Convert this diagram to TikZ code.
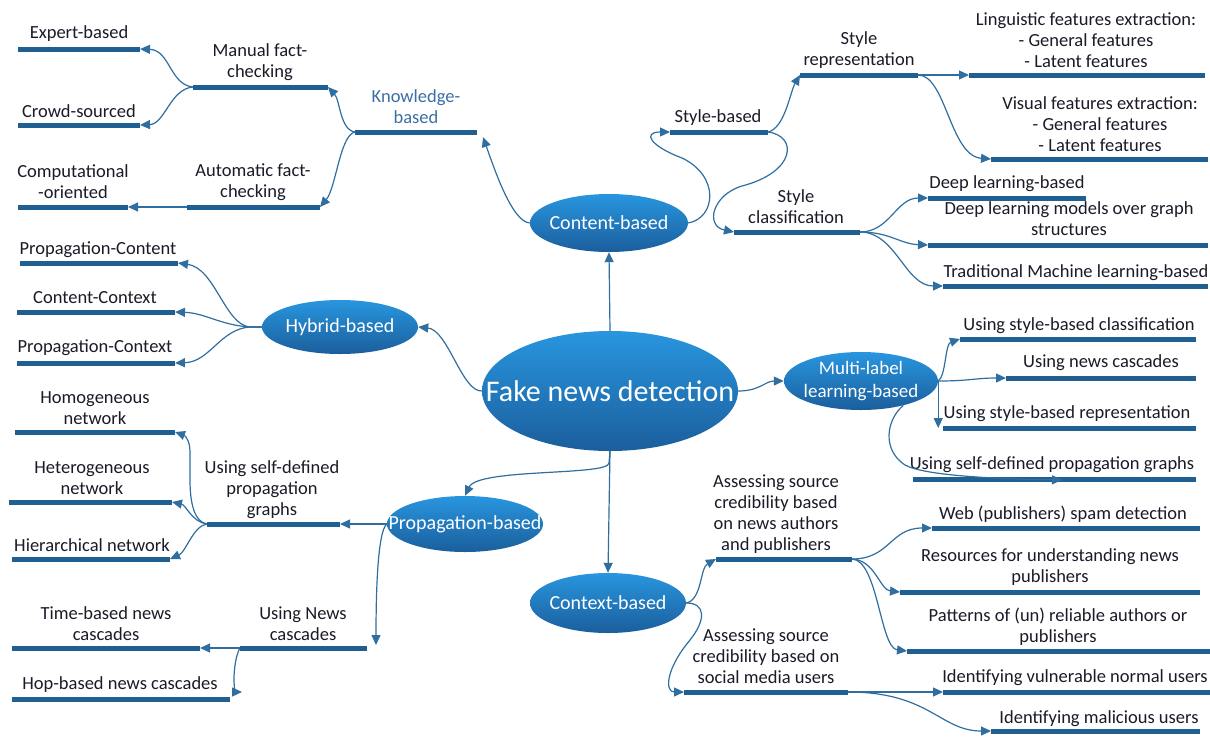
\documentclass[tikz,border=0pt]{standalone}
\usepackage{fontspec}
\setmainfont{Carlito}
\usetikzlibrary{arrows.meta,shapes.geometric}
\definecolor{barc}{HTML}{1F5F91}
\definecolor{linec}{HTML}{2F6E9F}
\definecolor{ellTop}{HTML}{2896DF}
\definecolor{ellBot}{HTML}{1B5E9C}
\definecolor{txt}{HTML}{1A1A28}
\definecolor{knc}{HTML}{3A6EA5}
\tikzset{
  barline/.style={line width=5pt, draw=barc},
  conn/.style={line width=1.2pt, draw=linec, -{Triangle[length=10pt,width=9pt]}},
  lbl/.style={font=\fontsize{18.5}{21}\selectfont, text=txt, align=center, inner sep=0pt},
  oval/.style={ellipse, top color=ellTop, bottom color=ellBot, draw=none, inner sep=0pt},
  ovaltext/.style={text=white, inner sep=0pt, align=center, font=\fontsize{20}{23}\selectfont},
}
\begin{document}
\begin{tikzpicture}[x=1pt,y=-1pt]
\useasboundingbox (0,0) rectangle (1210,737);
% ---------------- ellipses
\node[oval, minimum width=256pt, minimum height=120pt] (main) at (610,391) {};
\node[ovaltext, font=\fontsize{30}{32}\selectfont] (mainT) at (main.center) {Fake news detection};
\node[oval, minimum width=158pt, minimum height=58pt] (content) at (609,223) {};
\node[ovaltext] (contentT) at (content.center) {Content-based};
\node[oval, minimum width=156pt, minimum height=54pt] (hybrid) at (340,327) {};
\node[ovaltext] (hybridT) at (hybrid.center) {Hybrid-based};
\node[oval, minimum width=154pt, minimum height=58pt] (multi) at (861,381) {};
\node[ovaltext, font=\fontsize{19}{23}\selectfont] (multiT) at (multi.center) {Multi-label\\learning-based};
\node[oval, minimum width=156pt, minimum height=56pt] (prop) at (465,524) {};
\node[ovaltext] (propT) at (prop.center) {Propagation-based};
\node[oval, minimum width=156pt, minimum height=60pt] (context) at (608,603) {};
\node[ovaltext] (contextT) at (context.center) {Context-based};
% ---------------- bars (left/right ends)
\foreach \n/\a/\b/\y in {kn/355/477/132, man/193/328/87, aut/187/320/207, exp/18/140/49, crd/18/140/125, cmp/18/128/207,
  sb/670/768/132, sr/800/918/75, sc/734/860/232, ling/969/1205/75, vis/991/1208/159, dl/928/1086/198, dlg/928/1208/245, tml/943/1208/286,
  pc/20/178/263, cc/17/175/312, pcx/17/175/363,
  usc/960/1196/339, unc/1006/1196/378, usr/943/1196/428, usp/913/1196/479,
  sdp/207/340/524, hom/15/175/432, het/9/172/502, hie/12/170/559, unws/240/367/648, tim/12/200/648, hop/12/230/699,
  aa/716/852/559, asm/684/848/692, web/932/1200/528, res/900/1200/592, pat/907/1210/651, vul/943/1210/692, mal/991/1200/731}
{
  \coordinate (\n-l) at (\a,\y);
  \coordinate (\n-r) at (\b,\y);
  \draw[barline] (\n-l) -- (\n-r);
}
% ---------------- labels
\node[lbl, text=knc] (knT) at (416,107) {Knowledge-\\based};
\node[lbl] (manT) at (260,62) {Manual fact-\\checking};
\node[lbl] (autT) at (253,182) {Automatic fact-\\checking};
\node[lbl] (expT) at (79,34) {Expert-based};
\node[lbl] (crdT) at (79,111) {Crowd-sourced};
\node[lbl] (cmpT) at (73,182) {Computational\\-oriented};
\node[lbl] (sbT) at (718,118) {Style-based};
\node[lbl] (srT) at (859,50) {Style\\representation};
\node[lbl] (scT) at (796,207) {Style\\classification};
\node[lbl] (lingT) at (1086,40) {Linguistic features extraction:\\- General features\\- Latent features};
\node[lbl] (visT) at (1100,124) {Visual features extraction:\\- General features\\- Latent features};
\node[lbl] (dlT) at (1007,184) {Deep learning-based};
\node[lbl] (dlgT) at (1069,219) {Deep learning models over graph\\structures};
\node[lbl] (tmlT) at (1076,273) {Traditional Machine learning-based};
\node[lbl] (pcT) at (98,250) {Propagation-Content};
\node[lbl] (ccT) at (95,298) {Content-Context};
\node[lbl] (pcxT) at (95,348) {Propagation-Context};
\node[lbl] (uscT) at (1079,326) {Using style-based classification};
\node[lbl] (uncT) at (1101,363) {Using news cascades};
\node[lbl] (usrT) at (1067,414) {Using style-based representation};
\node[lbl] (uspT) at (1052,465) {Using self-defined propagation graphs};
\node[lbl] (sdpT) at (272,490) {Using self-defined\\propagation\\graphs};
\node[lbl] (homT) at (95,408) {Homogeneous\\network};
\node[lbl] (hetT) at (92,478) {Heterogeneous\\network};
\node[lbl] (hieT) at (92,545) {Hierarchical network};
\node[lbl] (unwsT) at (303,624) {Using News\\cascades};
\node[lbl] (timT) at (106,624) {Time-based news\\cascades};
\node[lbl] (hopT) at (120,685) {Hop-based news cascades};
\node[lbl] (aaT) at (776,514) {Assessing source\\credibility based\\on news authors\\and publishers};
\node[lbl] (asmT) at (766,656) {Assessing source\\credibility based on\\social media users};
\node[lbl] (webT) at (1063,514) {Web (publishers) spam detection};
\node[lbl] (resT) at (1050,567) {Resources for understanding news\\publishers};
\node[lbl] (patT) at (1058,627) {Patterns of (un) reliable authors or\\publishers};
\node[lbl] (vulT) at (1075,678) {Identifying vulnerable normal users};
\node[lbl] (malT) at (1099,719) {Identifying malicious users};
% ---------------- helper coordinates
\coordinate (hj) at (250,327);
\coordinate (kna) at (483,137);
\coordinate (uspa) at (1062,480);
\coordinate (unwsa) at (376,645);
\coordinate (hopa) at (242,692);
% ---------------- connectors from main
\draw[conn] (main.north) -- (content.south);
\draw[conn] (main.west) .. controls (462,392) and (448,330) .. (hybrid.east);
\draw[conn] (main.east) .. controls (760,391) and (765,381) .. (multi.west);
\draw[conn] (main.south) -- (609,463) .. controls (609,476) and (478,468) .. (prop.north);
\draw[conn] (main.south) -- (context.north);
% content
\draw[conn] (content.west) .. controls (512,222) and (494,168) .. (kna);
\draw[conn] (content.east) .. controls (716,218) and (720,176) .. (682,158) .. controls (650,146) and (642,132) .. (sb-l);
\draw[conn] (sb-r) .. controls (785,128) and (790,92) .. (sr-l);
\draw[conn] (sb-r) .. controls (798,136) and (796,172) .. (742,186) .. controls (712,195) and (705,226) .. (sc-l);
\draw[conn] (sr-r) -- (ling-l);
\draw[conn] (sr-r) .. controls (946,75) and (950,156) .. (vis-l);
\draw[conn] (sc-r) .. controls (890,232) and (896,198) .. (dl-l);
\draw[conn] (sc-r) .. controls (890,232) and (900,244) .. (dlg-l);
\draw[conn] (sc-r) .. controls (896,232) and (905,286) .. (tml-l);
% knowledge
\draw[conn] (kn-l) .. controls (340,130) and (340,100) .. (man-r);
\draw[conn] (kn-l) .. controls (340,135) and (336,188) .. (aut-r);
\draw[conn] (man-l) .. controls (170,85) and (170,50) .. (exp-r);
\draw[conn] (man-l) .. controls (170,89) and (165,124) .. (crd-r);
\draw[conn] (aut-l) -- (cmp-r);
% hybrid
\draw[conn] (hybrid.west) -- (hj) .. controls (225,325) and (215,268) .. (pc-r);
\draw[conn] (hybrid.west) -- (hj) .. controls (220,325) and (205,313) .. (cc-r);
\draw[conn] (hybrid.west) -- (hj) .. controls (220,329) and (210,362) .. (pcx-r);
% multi-label
\draw[conn] (multi.east) .. controls (946,376) and (945,344) .. (usc-l);
\draw[conn] (multi.east) .. controls (970,381) and (975,378) .. (unc-l);
\draw[conn] (multi.east) -- (multi.east |- usr-l);
\draw[conn] (multi.-30) .. controls (886,420) and (882,450) .. (905,465) .. controls (925,476) and (1000,479) .. (uspa);
% propagation
\draw[conn] (prop.west) -- (sdp-r);
\draw[conn] (prop.west) .. controls (377,532) and (376,600) .. (unwsa);
\draw[conn] (sdp-l) .. controls (195,522) and (190,505) .. (190,480) -- (190,452) .. controls (190,442) and (186,436) .. (hom-r);
\draw[conn] (sdp-l) .. controls (192,522) and (186,505) .. (het-r);
\draw[conn] (sdp-l) .. controls (193,526) and (186,552) .. (hie-r);
\draw[conn] (unws-l) -- (tim-r);
\draw[conn] (unws-l) .. controls (236,655) and (234,668) .. (234,680) .. controls (234,688) and (236,692) .. (hopa);
% context
\draw[conn] (context.east) .. controls (702,600) and (700,568) .. (aa-l);
\draw[conn] (context.east) .. controls (706,603) and (706,620) .. (690,640) .. controls (665,670) and (665,692) .. (asm-l);
\draw[conn] (aa-r) .. controls (890,559) and (890,528) .. (web-l);
\draw[conn] (aa-r) .. controls (875,560) and (880,590) .. (res-l);
\draw[conn] (aa-r) .. controls (878,560) and (880,648) .. (pat-l);
\draw[conn] (asm-r) -- (vul-l);
\draw[conn] (asm-r) .. controls (930,692) and (940,731) .. (mal-l);
\end{tikzpicture}
\end{document}
